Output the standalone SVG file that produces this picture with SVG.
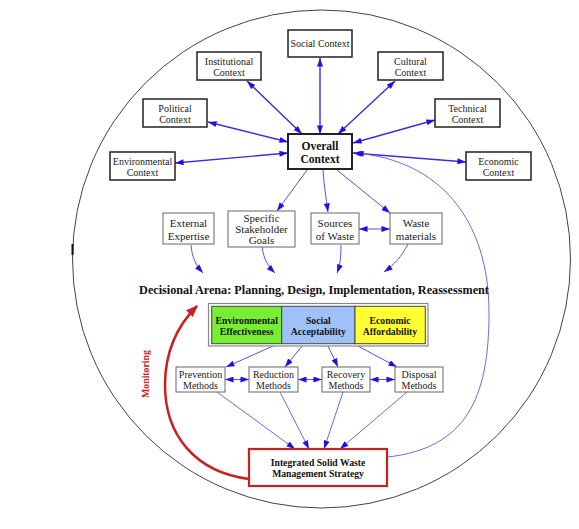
<svg xmlns="http://www.w3.org/2000/svg" width="579" height="529" viewBox="0 0 579 529">
<style>
text{font-family:"Liberation Serif","Times New Roman",serif;text-anchor:middle;fill:#222}
.ctx rect{fill:#fff;stroke:#222;stroke-width:1.5}
.ctx text{font-size:10px}
.sec rect{fill:#fff;stroke:#666;stroke-width:1}
.sec text{font-size:11px}
.met rect{fill:#fff;stroke:#666;stroke-width:1}
.met text{font-size:10px}
.b{font-weight:bold;fill:#111}
.up{fill:none;stroke:#3a2ee0;stroke-width:1.4}
.lo{fill:none;stroke:#5a50ea;stroke-width:1}
.lt{fill:none;stroke:#7068f0;stroke-width:1}
</style>
<defs>
<marker id="ah" viewBox="0 0 10 7" refX="10" refY="3.5" markerWidth="9" markerHeight="6" markerUnits="userSpaceOnUse" orient="auto-start-reverse">
<path d="M0,0 L10,3.5 L0,7 z" fill="#2010e8"/>
</marker>
<marker id="rh" viewBox="0 0 10 8" refX="9" refY="4" markerWidth="12" markerHeight="10" markerUnits="userSpaceOnUse" orient="auto">
<path d="M0,0 L10,4 L0,8 z" fill="#cc2020"/>
</marker>
</defs>
<rect width="579" height="529" fill="#fff"/>
<circle cx="321.5" cy="259" r="249" fill="none" stroke="#444" stroke-width="1"/>
<line x1="72.5" y1="244" x2="72.5" y2="255" stroke="#111" stroke-width="2"/>

<g id="connectors">
<path class="up" d="M320,58 L320,134" marker-start="url(#ah)" marker-end="url(#ah)"/>
<path class="up" d="M247,81 L302,134" marker-start="url(#ah)" marker-end="url(#ah)"/>
<path class="up" d="M395,81 L338,134" marker-start="url(#ah)" marker-end="url(#ah)"/>
<path class="up" d="M208,122 L288,142" marker-start="url(#ah)" marker-end="url(#ah)"/>
<path class="up" d="M435,120 L353,143" marker-start="url(#ah)" marker-end="url(#ah)"/>
<path class="up" d="M175,163 L288,153" marker-start="url(#ah)" marker-end="url(#ah)"/>
<path class="up" d="M353,153 L466,162" marker-start="url(#ah)" marker-end="url(#ah)"/>
<path class="lo" d="M307,170 L277,211" marker-end="url(#ah)"/>
<path class="lo" d="M323,170 C324,185 326,198 328,212" marker-end="url(#ah)"/>
<path class="lo" d="M337,170 L390,213" marker-end="url(#ah)"/>
<path class="lo" d="M359,229 L390,229" marker-start="url(#ah)" marker-end="url(#ah)"/>
<path class="lo" d="M191,245 C192,258 196,265 203,273" marker-end="url(#ah)"/>
<path class="lo" d="M262,247 C264,260 268,266 275,273" marker-end="url(#ah)"/>
<path class="lo" d="M341,245 C341,258 340,265 337,273" marker-end="url(#ah)"/>
<path class="lo" d="M408,244 C402,256 394,265 384,272" marker-end="url(#ah)"/>
<path class="lo" d="M273,346 L226,367" marker-end="url(#ah)"/>
<path class="lo" d="M302,346 L285,367" marker-end="url(#ah)"/>
<path class="lo" d="M328,346 L338,367" marker-end="url(#ah)"/>
<path class="lo" d="M358,346 L397,367" marker-end="url(#ah)"/>
<path class="lo" d="M225,379.5 L249,379.5" marker-start="url(#ah)" marker-end="url(#ah)"/>
<path class="lo" d="M298,379.5 L322,379.5" marker-start="url(#ah)" marker-end="url(#ah)"/>
<path class="lo" d="M370,379.5 L395,379.5" marker-start="url(#ah)" marker-end="url(#ah)"/>
<path class="lt" d="M217,392 L295,449" marker-end="url(#ah)"/>
<path class="lt" d="M280,392 L309,449" marker-end="url(#ah)"/>
<path class="lt" d="M343,392 L324,449" marker-end="url(#ah)"/>
<path class="lt" d="M407,392 L340,449" marker-end="url(#ah)"/>
<path class="lt" d="M388,457 C465,448 489,400 489,313 C489,220 440,160 355,153" marker-end="url(#ah)"/>
<path d="M249,479 C195,472 165,435 165,385 C165,350 178,325 197,306" fill="none" stroke="#cc2020" stroke-width="2.5" marker-end="url(#rh)"/>
</g>

<g id="social" class="ctx"><rect x="288" y="30" width="64" height="27"/><text x="320" y="47">Social Context</text></g>
<g id="institutional" class="ctx"><rect x="197" y="52" width="64" height="28"/><text x="229" y="64.5">Institutional</text><text x="229" y="75.5">Context</text></g>
<g id="cultural" class="ctx"><rect x="378" y="52" width="65" height="28"/><text x="410.5" y="64.5">Cultural</text><text x="410.5" y="75.5">Context</text></g>
<g id="political" class="ctx"><rect x="143" y="99" width="64" height="28"/><text x="175" y="111.5">Political</text><text x="175" y="122.5">Context</text></g>
<g id="technical" class="ctx"><rect x="435" y="99" width="65" height="28"/><text x="467.5" y="111.5">Technical</text><text x="467.5" y="122.5">Context</text></g>
<g id="environmental" class="ctx"><rect x="110" y="152" width="65" height="28"/><text x="142.5" y="164.5">Environmental</text><text x="142.5" y="175.5">Context</text></g>
<g id="economic" class="ctx"><rect x="466" y="152" width="65" height="28"/><text x="498.5" y="164.5">Economic</text><text x="498.5" y="175.5">Context</text></g>
<g id="overall"><rect x="288" y="134" width="64" height="35" fill="#fff" stroke="#222" stroke-width="2"/><text class="b" x="320" y="149.5" font-size="11.5">Overall</text><text class="b" x="320" y="162.5" font-size="11.5">Context</text></g>

<g id="external" class="sec"><rect x="163" y="213" width="51" height="31"/><text x="188.5" y="227">External</text><text x="188.5" y="239.5">Expertise</text></g>
<g id="stakeholder" class="sec"><rect x="228" y="211" width="67" height="36"/><text x="261.5" y="222">Specific</text><text x="261.5" y="233">Stakeholder</text><text x="261.5" y="244">Goals</text></g>
<g id="sources" class="sec"><rect x="311" y="213" width="48" height="31"/><text x="335" y="227">Sources</text><text x="335" y="239.5">of Waste</text></g>
<g id="waste" class="sec"><rect x="390" y="213" width="52" height="31"/><text x="416" y="227">Waste</text><text x="416" y="239.5">materials</text></g>

<g id="arena"><text class="b" x="314" y="294" font-size="12.2">Decisional Arena: Planning, Design, Implementation, Reassessment</text></g>

<g id="criteria">
<rect x="208.5" y="303.5" width="219.5" height="42.5" fill="#fff" stroke="#888" stroke-width="1.2"/>
<rect x="211.7" y="306.3" width="70" height="37.4" fill="#77ee33" stroke="#444" stroke-width="1"/>
<rect x="281.7" y="306.3" width="73.3" height="37.4" fill="#a0c0f8" stroke="#444" stroke-width="1"/>
<rect x="355" y="306.3" width="70.3" height="37.4" fill="#ffff33" stroke="#444" stroke-width="1"/>
<text class="b" x="246.7" y="324" font-size="9.7">Environmental</text><text class="b" x="246.7" y="334.5" font-size="9.7">Effectiveness</text>
<text class="b" x="318.3" y="324" font-size="9.7">Social</text><text class="b" x="318.3" y="334.5" font-size="9.7">Acceptability</text>
<text class="b" x="390" y="324" font-size="9.7">Economic</text><text class="b" x="390" y="334.5" font-size="9.7">Affordability</text>
</g>

<g id="prevention" class="met"><rect x="176" y="367" width="49" height="25"/><text x="200.5" y="378">Prevention</text><text x="200.5" y="389">Methods</text></g>
<g id="reduction" class="met"><rect x="249" y="367" width="49" height="25"/><text x="273.5" y="378">Reduction</text><text x="273.5" y="389">Methods</text></g>
<g id="recovery" class="met"><rect x="322" y="367" width="48" height="25"/><text x="346" y="378">Recovery</text><text x="346" y="389">Methods</text></g>
<g id="disposal" class="met"><rect x="395" y="367" width="48" height="25"/><text x="419" y="378">Disposal</text><text x="419" y="389">Methods</text></g>

<g id="iswms"><rect x="249" y="449" width="138" height="37" fill="#fff" stroke="#cc2020" stroke-width="2.2"/><text class="b" x="318" y="466" font-size="9.7">Integrated Solid Waste</text><text class="b" x="318" y="477" font-size="9.7">Management Strategy</text></g>

<g id="monitoring"><text class="b" transform="translate(148.5,374) rotate(-90)" font-size="9.8" style="fill:#cc2020">Monitoring</text></g>
</svg>
